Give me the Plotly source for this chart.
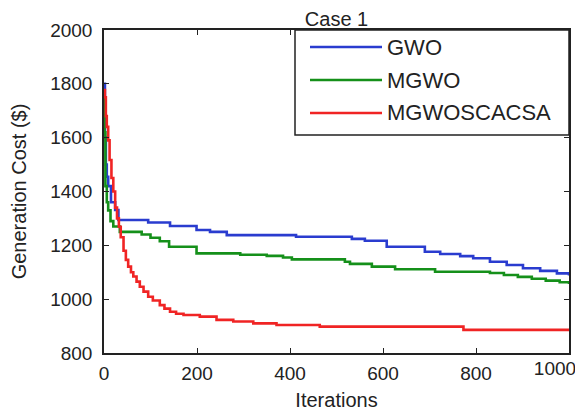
import plotly.graph_objects as go

# ---- data (step breakpoints) ----
gwo_iter = [0, 2, 4, 6, 9, 15, 24, 31, 95, 142, 199, 228, 264, 413, 533, 561, 608,
            690, 723, 766, 794, 830, 866, 901, 938, 974, 1000]
gwo_cost = [1800, 1600, 1500, 1455, 1420, 1360, 1331, 1294, 1285, 1272, 1257, 1250, 1238,
            1232, 1224, 1217, 1195, 1176, 1168, 1160, 1152, 1139, 1127, 1115, 1105, 1096, 1088]

mgwo_iter = [0, 1, 3, 6, 9, 14, 20, 34, 81, 100, 120, 140, 199, 293, 350, 385, 404, 518,
             529, 576, 626, 712, 830, 860, 890, 920, 950, 980, 1000]
mgwo_cost = [1760, 1620, 1420, 1360, 1330, 1290, 1270, 1250, 1240, 1228, 1215, 1195, 1170,
             1165, 1161, 1155, 1148, 1139, 1131, 1121, 1111, 1102, 1097, 1090, 1083, 1076,
             1069, 1063, 1056]

hyb_iter = [0, 2, 4, 6, 9, 12, 16, 20, 24, 28, 32, 36, 42, 47, 52, 58, 63, 70, 77, 85, 95,
            105, 120, 130, 142, 155, 171, 206, 242, 278, 321, 371, 464, 773, 1000]
hyb_cost = [1777, 1750, 1680, 1640, 1590, 1517, 1450, 1400, 1340, 1300, 1269, 1230, 1180,
            1146, 1121, 1100, 1084, 1065, 1046, 1028, 1009, 995, 978, 965, 953, 946, 941,
            935, 923, 917, 910, 904, 898, 886, 886]

series_names = ["GWO", "MGWO", "MGWOSCACSA"]
series_colors = ["#2a3ccf", "#15901a", "#f02424"]

x_ticks = [0, 200, 400, 600, 800, 1000]
x_last_tick = [1000]
y_ticks = [800, 1000, 1200, 1400, 1600, 1800, 2000]

FONT = "Liberation Sans, Arial, Helvetica, sans-serif"
INK = "#222222"

fig = go.Figure()
for xs, ys, name, col in zip([gwo_iter, mgwo_iter, hyb_iter],
                             [gwo_cost, mgwo_cost, hyb_cost],
                             series_names, series_colors):
    fig.add_trace(go.Scatter(x=xs, y=ys, mode="lines", name=name,
                             line=dict(color=col, width=2.6, shape="hv"),
                             showlegend=False))
# invisible copy on a helper axis that only carries the last (shifted) x tick label
fig.add_trace(go.Scatter(x=gwo_iter, y=gwo_cost, mode="lines", xaxis="x2",
                         line=dict(width=0), opacity=0, hoverinfo="skip", showlegend=False))

axis_common = dict(showline=True, linecolor=INK, linewidth=1.5, mirror="ticks",
                   ticks="inside", ticklen=5, tickwidth=1.3, tickcolor=INK,
                   showgrid=False, zeroline=False,
                   tickfont=dict(family=FONT, size=19, color=INK))

fig.update_layout(
    xaxis=dict(range=[0, 1000], tickvals=x_ticks,
               ticktext=[str(v) if v != 1000 else "" for v in x_ticks],
               ticklabelstandoff=2,
               title=dict(text="Iterations", font=dict(family=FONT, size=20, color=INK),
                          standoff=10),
               **axis_common),
    xaxis2=dict(range=[0, 1000], overlaying="x", side="bottom", matches="x",
                tickvals=x_last_tick, ticks="", showline=False, showgrid=False,
                zeroline=False, ticklabelstandoff=2, ticklabelshift=-14,
                ticklabeloverflow="allow",
                tickfont=dict(family=FONT, size=19, color=INK)),
    yaxis=dict(range=[800, 2000], tickvals=y_ticks, ticklabelstandoff=6,
               title=dict(text="Generation Cost ($)",
                          font=dict(family=FONT, size=20, color=INK), standoff=20),
               **axis_common),
)

# legend box (drawn manually to match the long line samples); positions given in
# page pixels of the plot area (left 104, right 569, top 30, bottom 353)
def px_to_paper_x(px):
    return (px - 104) / 465.0

def px_to_paper_y(py):
    return (353 - py) / 323.0

fig.add_shape(type="rect", xref="paper", yref="paper",
              x0=px_to_paper_x(295), x1=1.0, y0=px_to_paper_y(135), y1=1.0,
              line=dict(color=INK, width=1.5), fillcolor="white", layer="above")
legend_rows = [47, 80, 113]
for name, col, py in zip(series_names, series_colors, legend_rows):
    fig.add_shape(type="line", xref="paper", yref="paper",
                  x0=px_to_paper_x(310), x1=px_to_paper_x(382),
                  y0=px_to_paper_y(py), y1=px_to_paper_y(py),
                  line=dict(color=col, width=2.6), layer="above")
    fig.add_annotation(xref="paper", yref="paper", x=px_to_paper_x(385), y=px_to_paper_y(py),
                       text=name, showarrow=False, xanchor="left", yanchor="middle",
                       font=dict(family=FONT, size=22, color=INK))

# the page body has an 8px default margin, so the figure is 8px smaller than the window
fig.update_layout(
    width=575, height=410,
    margin=dict(l=96, r=14, t=22, b=65, autoexpand=False),
    paper_bgcolor="white", plot_bgcolor="white",
    title=dict(text="Case 1", x=0.5, xanchor="center", xref="paper", y=0.972, yanchor="middle",
               font=dict(family=FONT, size=20, color=INK)),
)

fig.write_html("out.html")
